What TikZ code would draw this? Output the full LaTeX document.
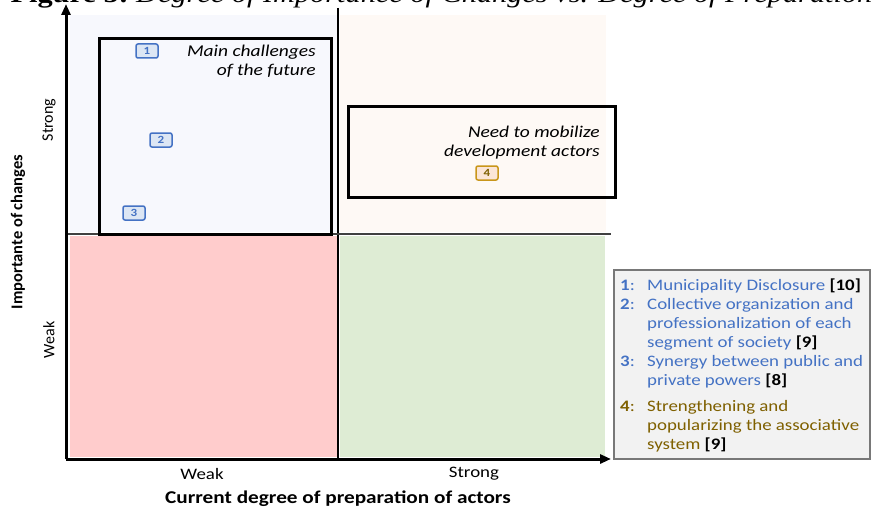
\documentclass[tikz,border=0pt]{standalone}
\usepackage{fontspec}
\setmainfont{Carlito}[FakeStretch=1.18]
\newfontfamily\plainfont{Carlito}
\newfontfamily\capfont{Liberation Serif}[FakeStretch=1.18]
\usetikzlibrary{arrows.meta}
\definecolor{qtl}{RGB}{247,248,253}
\definecolor{qtr}{RGB}{254,249,245}
\definecolor{qbl}{RGB}{255,204,204}
\definecolor{qbr}{RGB}{222,236,212}
\definecolor{itemblue}{RGB}{68,114,196}
\definecolor{itemgold}{RGB}{127,96,0}
\definecolor{badgeblue}{RGB}{220,230,244}
\definecolor{badgegoldfill}{RGB}{251,229,214}
\definecolor{badgegold}{RGB}{201,150,26}
\definecolor{legfill}{RGB}{242,242,242}
\definecolor{leggray}{RGB}{120,120,120}
\tikzset{
  axisline/.style={line width=3pt,-{Triangle[length=11pt,width=9pt]}},
  zonebox/.style={draw=black,line width=3pt},
  badgeb/.style={draw=itemblue,fill=badgeblue,line width=1.5pt,rounded corners=2pt,
    minimum width=22pt,minimum height=14pt,inner sep=0pt,text=itemblue,
    font=\fontsize{11}{11}\selectfont\bfseries},
  badgeg/.style={badgeb,draw=badgegold,fill=badgegoldfill,text=itemgold},
  zonetext/.style={align=right,font=\fontsize{16.5}{19}\selectfont\itshape,inner sep=0pt},
  axtext/.style={font=\fontsize{16}{19}\selectfont,inner sep=0pt},
  axtitle/.style={font=\fontsize{18}{19}\selectfont\bfseries,inner sep=0pt},
  rottext/.style={font=\plainfont\fontsize{16}{19}\selectfont,inner sep=0pt,rotate=90},
  rottitle/.style={font=\plainfont\fontsize{16.5}{19}\selectfont\bfseries,inner sep=0pt,rotate=90},
}
\begin{document}
\begin{tikzpicture}[x=1pt,y=-1pt]
\useasboundingbox (0,0) rectangle (872,511);
% clipped caption
\begin{scope}
\clip (0,0) rectangle (872,9);
\node[anchor=base east,inner sep=0pt,font=\capfont\fontsize{25.7}{26}\selectfont\bfseries] (capa) at (129,3) {Figure 5:};
\node[anchor=base west,inner sep=0pt,font=\capfont\fontsize{25.7}{26}\selectfont\itshape] (capb) at (136,3) {Degree of Importance of Changes vs. Degree of Preparation of Actors};
\end{scope}
% quadrants
\fill[qtl] (70,15) rectangle (337,232);
\fill[qtr] (340,15) rectangle (606,232);
\fill[qbl] (70,236) rectangle (337,457);
\fill[qbr] (340,236) rectangle (605,457);
% dividers
\coordinate (vt) at (338,8);
\coordinate (vb) at (338,458);
\coordinate (hl) at (66,234);
\coordinate (hr) at (611,234);
\draw[line width=1.5pt] (vt) -- (vb);
\draw[line width=1.4pt,black!75] (hl) -- (hr);
% axes
\coordinate (org) at (66,459);
\coordinate (ytip) at (66,4);
\coordinate (xtip) at (611,459);
\draw[axisline] (org) -- (ytip);
\draw[axisline] (org) -- (xtip);
% zone boxes
\node[zonebox,minimum width=232pt,minimum height=195pt,inner sep=0pt] (zmain) at (215,136.5) {};
\node[zonebox,minimum width=267pt,minimum height=91pt,inner sep=0pt] (zneed) at (481.5,151.5) {};
\node[zonetext,anchor=east] (tmain) at (316,61) {Main challenges\\of the future};
\node[zonetext,anchor=east] (tneed) at (600,143) {Need to mobilize\\development actors};
% badges
\node[badgeb] (b1) at (147,51) {1};
\node[badgeb] (b2) at (161,140) {2};
\node[badgeb] (b3) at (134,213) {3};
\node[badgeg] (b4) at (487,173) {4};
% axis labels
\node[rottext] (ys) at (49,120) {Strong};
\node[rottext] (yw) at (49,340) {Weak};
\node[rottitle] (yt) at (18,232) {Importante of changes};
\node[axtext] (xw) at (202,474) {Weak};
\node[axtext] (xs) at (474,474) {Strong};
\node[axtitle] (xt) at (338,499) {Current degree of preparation of actors};
% legend
\node[draw=leggray,fill=legfill,line width=1.2pt,minimum width=256pt,minimum height=189pt,inner sep=0pt] (legbox) at (742,364.5) {};
\node[anchor=north west,inner sep=0pt,font=\fontsize{16}{19}\selectfont] (legtext) at (620,277) {%
\begin{tabular}{@{}l@{}l@{}}
\makebox[27pt][l]{\textcolor{itemblue}{\textbf{1}:}} & \textcolor{itemblue}{Municipality Disclosure} \textbf{[10]}\\
\makebox[27pt][l]{\textcolor{itemblue}{\textbf{2}:}} & \textcolor{itemblue}{Collective organization and}\\
 & \textcolor{itemblue}{professionalization of each}\\
 & \textcolor{itemblue}{segment of society} \textbf{[9]}\\
\makebox[27pt][l]{\textcolor{itemblue}{\textbf{3}:}} & \textcolor{itemblue}{Synergy between public and}\\
 & \textcolor{itemblue}{private powers} \textbf{[8]}\\[7pt]
\makebox[27pt][l]{\textcolor{itemgold}{\textbf{4}:}} & \textcolor{itemgold}{Strengthening and}\\
 & \textcolor{itemgold}{popularizing the associative}\\
 & \textcolor{itemgold}{system} \textbf{[9]}
\end{tabular}};
\end{tikzpicture}
\end{document}
